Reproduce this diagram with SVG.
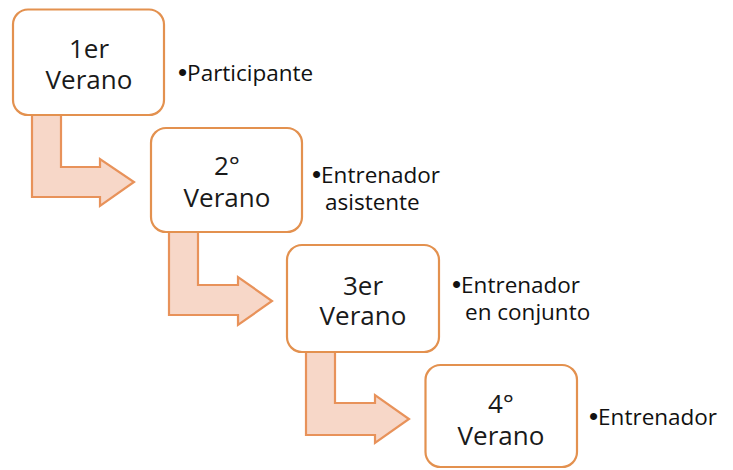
<svg xmlns="http://www.w3.org/2000/svg" width="733" height="470" viewBox="0 0 733 470">
<style>
.box{fill:#ffffff;stroke:#E3914F;stroke-width:2.2}
.arr{fill:#F7D7C8;stroke:#E8925A;stroke-width:2.2;stroke-linejoin:miter}
.bt{font-family:"Open Sans","Noto Sans",sans-serif;font-size:26px;fill:#1a1a1a;text-anchor:middle}
.dt{font-family:"Open Sans","Noto Sans",sans-serif;font-size:22.5px;fill:#111111}
.bl{font-family:"Liberation Sans",sans-serif;font-size:26px}
</style>
<rect width="733" height="470" fill="#ffffff"/>
<g id="connectors">
<path class="arr" d="M32,115 L61,115 L61,167 L100,167 L100,159 L134,182 L100,206 L100,197 L32,197 Z"/>
<path class="arr" d="M169,232 L198,232 L198,285 L238,285 L238,277 L272,301 L238,325 L238,315 L169,315 Z"/>
<path class="arr" d="M306,352 L335,352 L335,403 L375,403 L375,395 L409,419 L375,443 L375,435 L306,435 Z"/>
</g>
<g id="node1">
<rect class="box" x="13" y="9.5" width="151" height="105.5" rx="15"/>
<text class="bt" x="89" y="58">1er</text>
<text class="bt" x="89" y="89">Verano</text>
</g>
<g id="node2">
<rect class="box" x="151" y="128" width="151" height="104" rx="15"/>
<text class="bt" x="227" y="175">2°</text>
<text class="bt" x="227" y="207">Verano</text>
</g>
<g id="node3">
<rect class="box" x="287" y="245" width="152" height="107" rx="15"/>
<text class="bt" x="363" y="295">3er</text>
<text class="bt" x="363" y="325">Verano</text>
</g>
<g id="node4">
<rect class="box" x="425.5" y="365" width="151.5" height="102" rx="15"/>
<text class="bt" x="501" y="413">4°</text>
<text class="bt" x="501" y="445">Verano</text>
</g>
<g id="desc1">
<text class="dt" x="178" y="81"><tspan class="bl">•</tspan>Participante</text>
</g>
<g id="desc2">
<text class="dt" x="312" y="183"><tspan class="bl">•</tspan>Entrenador</text>
<text class="dt" x="325" y="210">asistente</text>
</g>
<g id="desc3">
<text class="dt" x="452" y="293"><tspan class="bl">•</tspan>Entrenador</text>
<text class="dt" x="465" y="320">en conjunto</text>
</g>
<g id="desc4">
<text class="dt" x="589" y="425"><tspan class="bl">•</tspan>Entrenador</text>
</g>
</svg>
